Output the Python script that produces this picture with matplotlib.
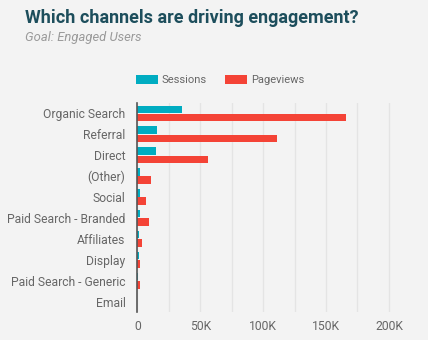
import matplotlib.pyplot as plt
import numpy as np
from matplotlib.ticker import FuncFormatter, MultipleLocator

plt.rcParams['font.family'] = ['Roboto', 'DejaVu Sans']

channels = ['Organic Search', 'Referral', 'Direct', '(Other)', 'Social',
            'Paid Search - Branded', 'Affiliates', 'Display',
            'Paid Search - Generic', 'Email']
sessions = [35900, 15300, 14500, 2100, 2000, 1800, 1500, 1300, 200, 50]
pageviews = [165900, 111300, 55900, 10800, 6900, 9300, 3700, 2100, 2100, 100]

bg = '#f3f3f3'
teal = '#00acc1'
red = '#f44336'

fig = plt.figure(figsize=(4.28, 3.40), dpi=100, facecolor=bg)
ax = fig.add_axes([0.3208, 0.0824, 0.632, 0.6147])
ax.set_facecolor(bg)

y = np.arange(len(channels))
ax.barh(y - 0.2, sessions, height=0.35, color=teal, label='Sessions', zorder=3)
ax.barh(y + 0.2, pageviews, height=0.37, color=red, label='Pageviews', zorder=3)

ax.set_ylim(len(channels) - 0.5, -0.5)
ax.set_xlim(0, 215000)
ax.set_yticks(y)
ax.set_yticklabels(channels)

ax.xaxis.set_major_locator(MultipleLocator(50000))
ax.xaxis.set_minor_locator(MultipleLocator(25000))
ax.xaxis.set_major_formatter(FuncFormatter(lambda v, p: '0' if v == 0 else f'{int(v / 1000)}K'))
ax.grid(axis='x', which='both', color='#e4e4e4', linewidth=1, zorder=0)

for s in ['top', 'right', 'bottom']:
    ax.spines[s].set_visible(False)
ax.spines['left'].set_color('#555555')
ax.spines['left'].set_linewidth(1.2)
ax.spines['left'].set_zorder(4)

ax.tick_params(axis='both', which='both', length=0, colors='#666666', labelsize=8.7)
ax.tick_params(axis='y', pad=8.5)
ax.tick_params(axis='x', pad=6)

fig.text(25 / 428, 1 - 18 / 340, 'Which channels are driving engagement?',
         fontsize=13, fontweight='bold', color='#1d4e5c', va='center', ha='left')
fig.text(25 / 428, 1 - 37 / 340, 'Goal: Engaged Users',
         fontsize=9.4, fontstyle='italic', color='#9a9a9a', va='center', ha='left')

fig.legend(loc='center', bbox_to_anchor=(220 / 428, 1 - 80 / 340), ncol=2,
           frameon=False, fontsize=8, labelcolor='#666666',
           handlelength=2.0, handleheight=0.9, handletextpad=0.36,
           columnspacing=1.6, borderaxespad=0)

fig.savefig('out.png', dpi=100, facecolor=bg)
